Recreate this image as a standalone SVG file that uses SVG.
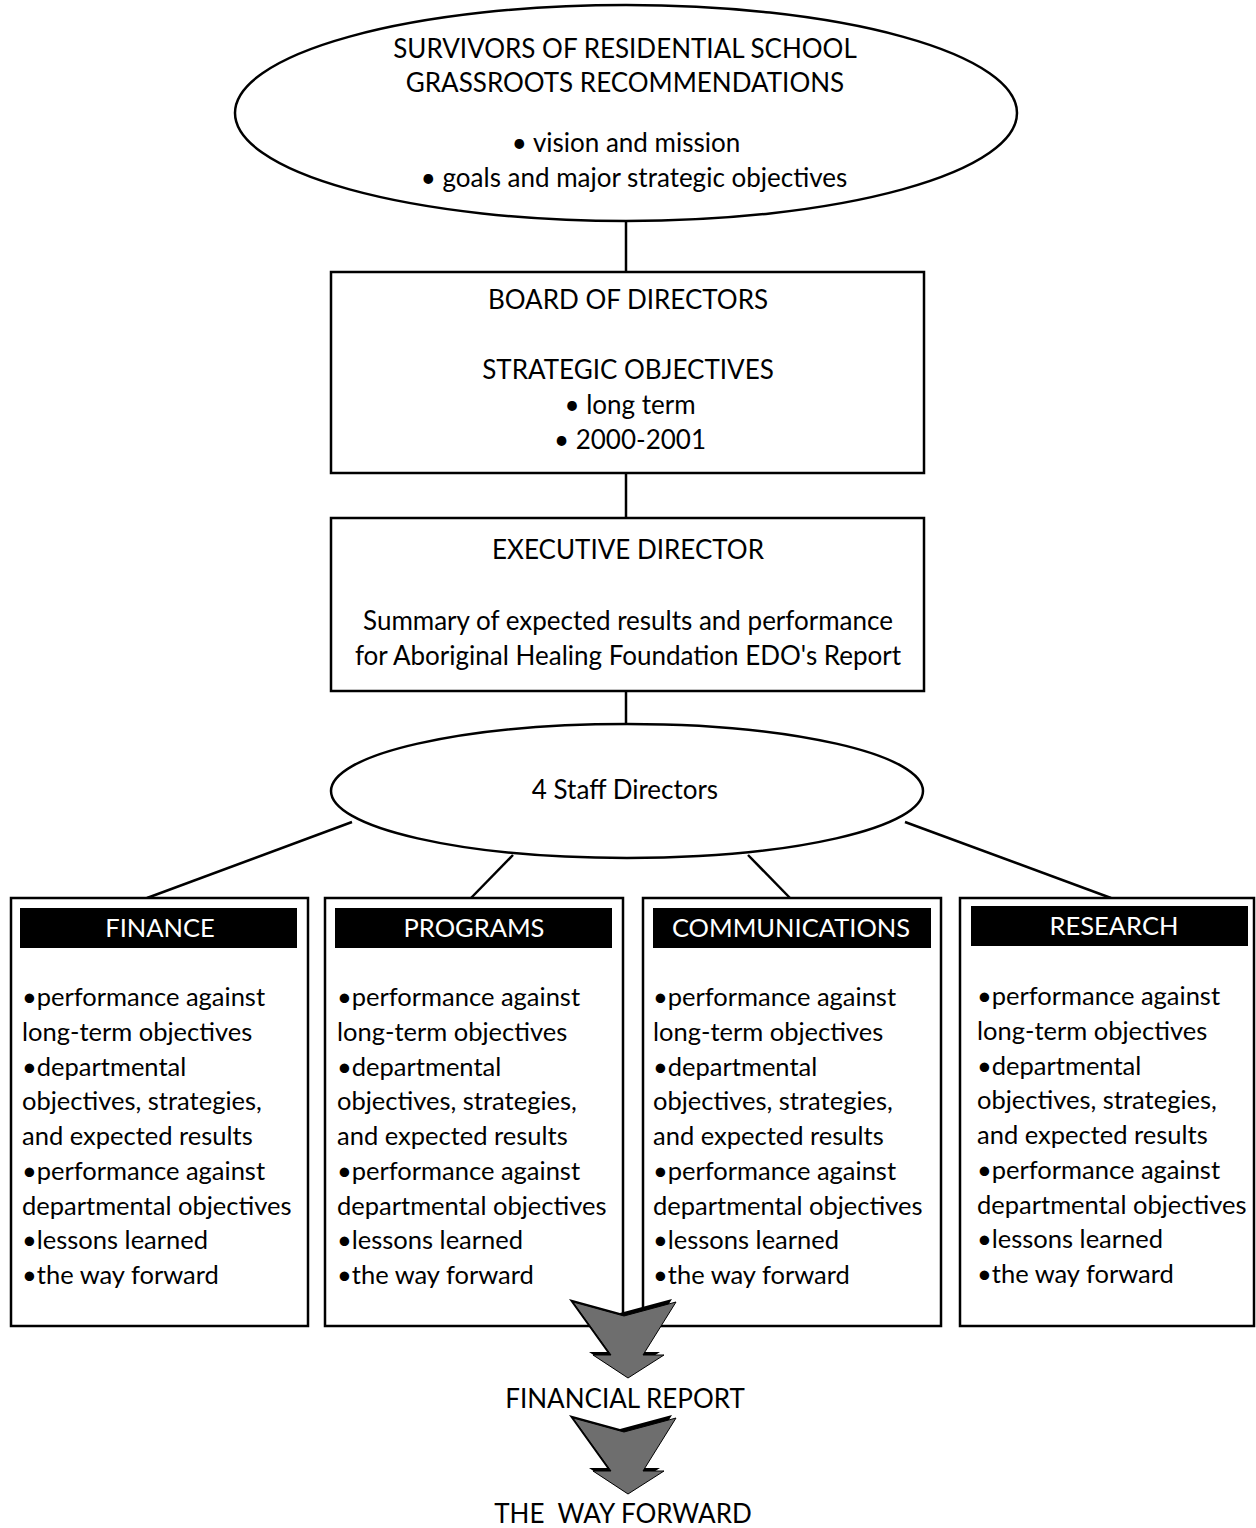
<svg xmlns="http://www.w3.org/2000/svg" width="1256" height="1528" viewBox="0 0 1256 1528">
<style>
text{font-family:"Lato","Liberation Sans",sans-serif;font-size:25.5px;fill:#000}
.c{text-anchor:middle;font-size:26px}
.h{fill:#fff;text-anchor:middle}
.s{fill:#fff;stroke:#000;stroke-width:2.5}
.bar{fill:#000}
.ln{stroke:#000;stroke-width:2.5;fill:none}
</style>
<defs>
<polygon id="arr" points="0,0 51,14 103,0 70,53 91,53 55,76 20,53 38,53"/>
</defs>
<rect width="1256" height="1528" fill="#fff"/>
<g id="connectors">
<line class="ln" x1="626" y1="221" x2="626" y2="272"/>
<line class="ln" x1="626" y1="473" x2="626" y2="518"/>
<line class="ln" x1="626" y1="691" x2="626" y2="724"/>
<line class="ln" x1="352" y1="822" x2="147" y2="898"/>
<line class="ln" x1="513" y1="855" x2="471" y2="898"/>
<line class="ln" x1="748" y1="855" x2="790" y2="898"/>
<line class="ln" x1="905" y1="822" x2="1111" y2="898"/>
</g>
<g id="survivors">
<ellipse class="s" cx="626" cy="113" rx="391" ry="108"/>
<text class="c" x="625" y="58">SURVIVORS OF RESIDENTIAL SCHOOL</text>
<text class="c" x="625" y="92">GRASSROOTS RECOMMENDATIONS</text>
<text class="c" x="626" y="152">• vision and mission</text>
<text class="c" x="634" y="187">• goals and major strategic objectives</text>
</g>
<g id="board">
<rect class="s" x="331" y="272" width="593" height="201"/>
<text class="c" x="628" y="309">BOARD OF DIRECTORS</text>
<text class="c" x="628" y="379">STRATEGIC OBJECTIVES</text>
<text class="c" x="630" y="414">• long term</text>
<text class="c" x="630" y="449">• 2000-2001</text>
</g>
<g id="executive">
<rect class="s" x="331" y="518" width="593" height="173"/>
<text class="c" x="628" y="559">EXECUTIVE DIRECTOR</text>
<text class="c" x="628" y="630">Summary of expected results and performance</text>
<text class="c" x="628" y="665">for Aboriginal Healing Foundation EDO's Report</text>
</g>
<g id="staff">
<ellipse class="s" cx="627" cy="791" rx="296" ry="67"/>
<text class="c" x="625" y="799">4 Staff Directors</text>
</g>
<g id="finance">
<rect class="s" x="11" y="898" width="297" height="428"/>
<rect class="bar" x="20" y="908" width="277" height="40"/>
<text class="h" x="160" y="937">FINANCE</text>
<text x="22" y="1006">•performance against</text>
<text x="22" y="1041">long-term objectives</text>
<text x="22" y="1076">•departmental</text>
<text x="22" y="1110">objectives, strategies,</text>
<text x="22" y="1145">and expected results</text>
<text x="22" y="1180">•performance against</text>
<text x="22" y="1215">departmental objectives</text>
<text x="22" y="1249">•lessons learned</text>
<text x="22" y="1284">•the way forward</text>
</g>
<g id="programs">
<rect class="s" x="325" y="898" width="298" height="428"/>
<rect class="bar" x="335" y="908" width="277" height="40"/>
<text class="h" x="474" y="937">PROGRAMS</text>
<text x="337" y="1006">•performance against</text>
<text x="337" y="1041">long-term objectives</text>
<text x="337" y="1076">•departmental</text>
<text x="337" y="1110">objectives, strategies,</text>
<text x="337" y="1145">and expected results</text>
<text x="337" y="1180">•performance against</text>
<text x="337" y="1215">departmental objectives</text>
<text x="337" y="1249">•lessons learned</text>
<text x="337" y="1284">•the way forward</text>
</g>
<g id="communications">
<rect class="s" x="643" y="898" width="298" height="428"/>
<rect class="bar" x="653" y="908" width="278" height="40"/>
<text class="h" x="791" y="937">COMMUNICATIONS</text>
<text x="653" y="1006">•performance against</text>
<text x="653" y="1041">long-term objectives</text>
<text x="653" y="1076">•departmental</text>
<text x="653" y="1110">objectives, strategies,</text>
<text x="653" y="1145">and expected results</text>
<text x="653" y="1180">•performance against</text>
<text x="653" y="1215">departmental objectives</text>
<text x="653" y="1249">•lessons learned</text>
<text x="653" y="1284">•the way forward</text>
</g>
<g id="research">
<rect class="s" x="960" y="898" width="294" height="428"/>
<rect class="bar" x="971" y="906" width="277" height="40"/>
<text class="h" x="1114" y="935">RESEARCH</text>
<text x="977" y="1005">•performance against</text>
<text x="977" y="1040">long-term objectives</text>
<text x="977" y="1075">•departmental</text>
<text x="977" y="1109">objectives, strategies,</text>
<text x="977" y="1144">and expected results</text>
<text x="977" y="1179">•performance against</text>
<text x="977" y="1214">departmental objectives</text>
<text x="977" y="1248">•lessons learned</text>
<text x="977" y="1283">•the way forward</text>
</g>
<g id="arrow1">
<use href="#arr" x="569" y="1299" fill="#000"/>
<use href="#arr" x="573" y="1302" fill="#6e6e6e" stroke="#000" stroke-width="1"/>
</g>
<g id="financial-report">
<text class="c" x="625" y="1408">FINANCIAL REPORT</text>
</g>
<g id="arrow2">
<use href="#arr" x="569" y="1415" fill="#000"/>
<use href="#arr" x="573" y="1418" fill="#6e6e6e" stroke="#000" stroke-width="1"/>
</g>
<g id="way-forward">
<text class="c" x="623" y="1523" xml:space="preserve">THE  WAY FORWARD</text>
</g>
</svg>
